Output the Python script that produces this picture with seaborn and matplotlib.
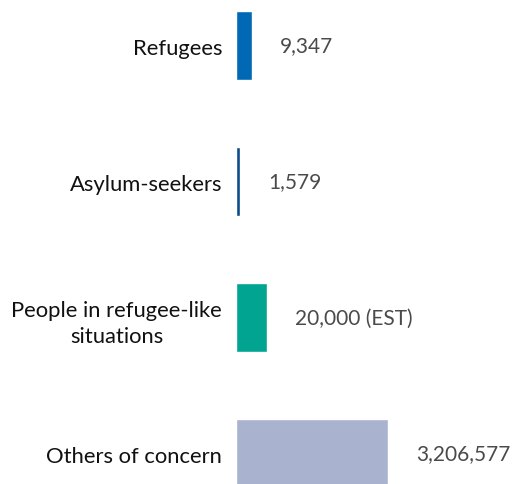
import matplotlib.pyplot as plt
import pandas as pd
import seaborn as sns

# categories and labels as shown in the infographic
categories = ['Refugees', 'Asylum-seekers', 'People in refugee-like\nsituations', 'Others of concern']
value_labels = ['9,347', '1,579', '20,000 (EST)', '3,206,577']
# bar lengths as drawn (the graphic does not scale bars linearly with the counts)
bar_length = [16, 4, 31, 152]
colors = ['#0168b5', '#0b4b89', '#00a490', '#a9b3cf']

df = pd.DataFrame({'category': categories, 'length': bar_length, 'label': value_labels})

sns.set_style('white')
plt.rcParams['font.family'] = ['Lato', 'DejaVu Sans']

fig = plt.figure(figsize=(5.12, 4.85), dpi=100)
ax = fig.add_axes([236 / 512, 0, 276 / 512, 1])

sns.barplot(data=df, y='category', x='length', hue='category', palette=colors,
            saturation=1, orient='h', width=0.507, legend=False, ax=ax)

ax.set_xlim(0, 276)
ax.set_ylim(3.224, -0.342)
ax.set_xlabel('')
ax.set_ylabel('')
ax.set_xticks([])
ax.tick_params(axis='y', length=0, pad=10, labelsize=15.8, labelcolor='#111111')
for t in ax.get_yticklabels():
    t.set_multialignment('center')
    t.set_linespacing(1.4)
sns.despine(ax=ax, left=True, bottom=True)

for i, row in df.iterrows():
    ax.annotate(row['label'], (row['length'], i), xytext=(20, 0),
                textcoords='offset points', va='center', ha='left',
                fontsize=15, color='#4a4a4a', annotation_clip=False)

fig.savefig('out.png', dpi=100)
